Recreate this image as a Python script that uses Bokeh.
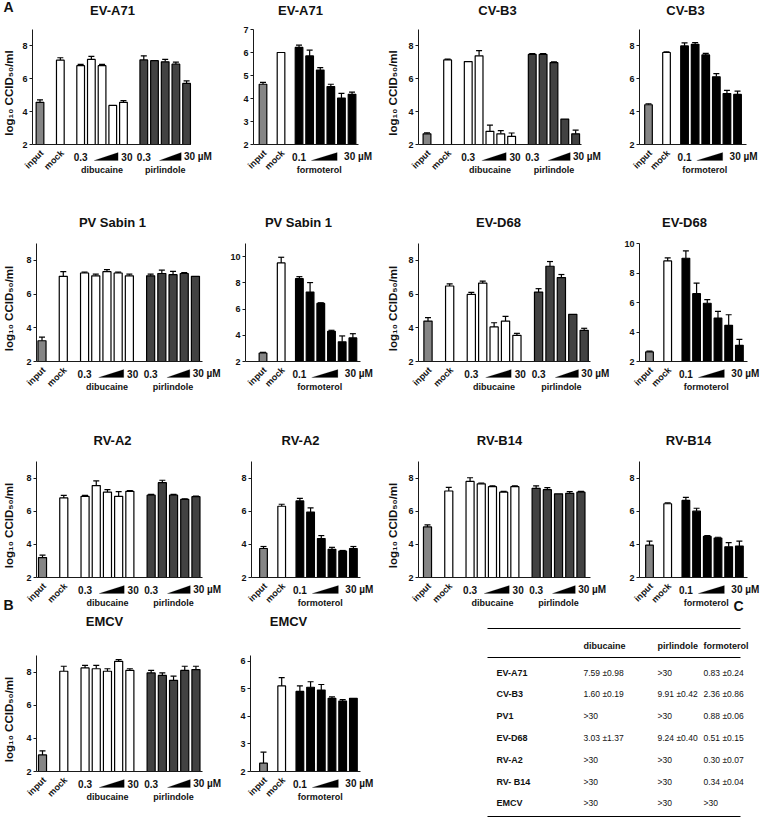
from math import pi
from bokeh.plotting import figure
from bokeh.layouts import row, column
from bokeh.models import (Range1d, FixedTicker, Label, PolyAnnotation, Whisker,
                          TeeHead, ColumnDataSource)
from bokeh.core.properties import value
from bokeh.embed import file_html
from bokeh.resources import INLINE

# ---------------- data (log10 CCID50/ml, mean and SD) ----------------
# dibucaine/pirlindole panels: input, mock, dibucaine x5 (0.3 -> 30), pirlindole x5 (0.3 -> 30 uM)
EVA71_dp_vals = [4.57, 7.13, 6.80, 7.18, 6.80, 4.38, 4.57, 7.15, 7.10, 7.03, 6.89, 5.72]
EVA71_dp_errs = [0.15, 0.15, 0.08, 0.18, 0.08, 0.00, 0.10, 0.25, 0.00, 0.15, 0.13, 0.15]
CVB3_dp_vals = [2.65, 7.15, 7.05, 7.40, 2.80, 2.65, 2.50, 7.48, 7.48, 6.98, 3.55, 2.65]
CVB3_dp_errs = [0.06, 0.05, 0.00, 0.32, 0.38, 0.20, 0.20, 0.05, 0.05, 0.05, 0.00, 0.22]
PV1_dp_vals = [3.23, 7.05, 7.25, 7.08, 7.33, 7.25, 7.08, 7.08, 7.22, 7.15, 7.22, 7.05]
PV1_dp_errs = [0.22, 0.28, 0.05, 0.10, 0.12, 0.05, 0.10, 0.10, 0.20, 0.20, 0.06, 0.00]
EVD68_dp_vals = [4.40, 6.48, 5.98, 6.65, 4.05, 4.40, 3.55, 6.12, 7.65, 6.98, 4.80, 3.85]
EVD68_dp_errs = [0.20, 0.13, 0.12, 0.12, 0.25, 0.28, 0.12, 0.20, 0.28, 0.18, 0.00, 0.12]
RVA2_dp_vals = [3.20, 6.80, 6.90, 7.55, 7.15, 6.90, 7.20, 6.97, 7.72, 6.97, 6.72, 6.88]
RVA2_dp_errs = [0.15, 0.15, 0.05, 0.28, 0.15, 0.28, 0.05, 0.05, 0.15, 0.05, 0.03, 0.03]
RVB14_dp_vals = [5.05, 7.22, 7.80, 7.65, 7.48, 7.15, 7.48, 7.38, 7.30, 7.05, 7.08, 7.15]
RVB14_dp_errs = [0.12, 0.22, 0.22, 0.05, 0.05, 0.05, 0.05, 0.15, 0.12, 0.00, 0.10, 0.05]
EMCV_dp_vals = [3.00, 8.05, 8.25, 8.20, 8.05, 8.65, 8.10, 7.95, 7.80, 7.50, 8.10, 8.15]
EMCV_dp_errs = [0.25, 0.30, 0.15, 0.20, 0.15, 0.10, 0.10, 0.15, 0.15, 0.25, 0.25, 0.20]

# formoterol panels: input, mock, formoterol x6 (0.1 -> 30 uM)
EVA71_f_vals = [4.62, 6.00, 6.22, 5.85, 5.24, 4.52, 4.02, 4.18]
EVA71_f_errs = [0.08, 0.00, 0.10, 0.25, 0.10, 0.10, 0.20, 0.10]
CVB3_f_vals = [4.42, 7.60, 8.00, 8.10, 7.45, 6.12, 5.10, 5.05]
CVB3_f_errs = [0.06, 0.04, 0.18, 0.10, 0.10, 0.20, 0.20, 0.20]
PV1_f_vals = [2.65, 9.52, 8.32, 7.30, 6.43, 4.30, 3.50, 3.80]
PV1_f_errs = [0.05, 0.43, 0.15, 0.72, 0.05, 0.08, 0.45, 0.32]
EVD68_f_vals = [2.65, 8.82, 9.00, 6.60, 5.95, 4.95, 4.45, 3.10]
EVD68_f_errs = [0.05, 0.20, 0.50, 0.72, 0.25, 0.45, 0.72, 0.40]
RVA2_f_vals = [3.75, 6.30, 6.62, 5.95, 4.35, 3.70, 3.60, 3.75]
RVA2_f_errs = [0.12, 0.12, 0.15, 0.25, 0.18, 0.12, 0.03, 0.12]
RVB14_f_vals = [3.95, 6.45, 6.65, 6.00, 4.48, 4.38, 3.85, 3.90]
RVB14_f_errs = [0.25, 0.05, 0.18, 0.18, 0.05, 0.05, 0.25, 0.30]
EMCV_f_vals = [2.30, 5.10, 4.90, 5.05, 4.95, 4.65, 4.55, 4.65]
EMCV_f_errs = [0.40, 0.30, 0.20, 0.20, 0.20, 0.05, 0.05, 0.00]

# table C (EC50, uM)
TABLE_HEAD = ["dibucaine", "pirlindole", "formoterol"]
TABLE_VIRUS = ["EV-A71", "CV-B3", "PV1", "EV-D68", "RV-A2", "RV- B14", "EMCV"]
TABLE_DIB = ["7.59 \u00b10.98", "1.60 \u00b10.19", ">30", "3.03 \u00b11.37", ">30", ">30", ">30"]
TABLE_PIR = [">30", "9.91 \u00b10.42", ">30", "9.24 \u00b10.40", ">30", ">30", ">30"]
TABLE_FOR = ["0.83 \u00b10.24", "2.36 \u00b10.86", "0.88 \u00b10.06", "0.51 \u00b10.15",
             "0.30 \u00b10.07", "0.34 \u00b10.04", ">30"]

# ---------------- style / layout ----------------
FONT = "Liberation Sans"
C_INPUT = "#858585"
C_WHITE = "#ffffff"
C_PIR = "#424242"
C_FOR = "#000000"
AX = "#1a1a1a"
TXT = "#111111"

DP_X = [0, 1.9, 3.8, 4.8, 5.8, 6.8, 7.8, 9.7, 10.7, 11.7, 12.7, 13.7]
F_X = [0, 1.7, 3.4, 4.4, 5.4, 6.4, 7.4, 8.4]
DP_COL = [C_INPUT, C_WHITE] + [C_WHITE] * 5 + [C_PIR] * 5
F_COL = [C_INPUT, C_WHITE] + [C_FOR] * 6
YLABEL = "log\u2081\u2080 CCID\u2085\u2080/ml"


def add_text(p, x, y, text, size, align="center", baseline="middle", angle=0, bold=True):
    p.add_layout(Label(x=x, y=y, text=text, angle=angle,
                       text_font=FONT, text_font_size=size,
                       text_font_style="bold" if bold else "normal",
                       text_align=align, text_baseline=baseline, text_color=TXT))


def build(kind, title, vals, errs, fig_x, rowg, ax, input_px, slot, ytop, yticks,
          title_x, ylabel_x=None, letters=()):
    fx0, fx1 = fig_x
    fy0, fy1 = rowg["fig"]
    yt_px, yb_px = rowg["axis"]
    ax0, ax1 = ax
    ppy = (yb_px - yt_px) / (ytop - 2.0)

    def xd(px):
        return (px - input_px) / slot

    def yd(py):
        return 2.0 + (yb_px - py) / ppy

    p = figure(width=fx1 - fx0, height=fy1 - fy0,
               x_range=Range1d(xd(fx0), xd(fx1)), y_range=Range1d(yd(fy1), yd(fy0)),
               output_backend="svg", toolbar_location=None, title=None,
               min_border=0, min_border_left=0, min_border_right=0,
               min_border_top=0, min_border_bottom=0)
    p.xgrid.visible = False
    p.ygrid.visible = False
    p.outline_line_color = None

    ya = p.yaxis[0]
    ya.fixed_location = xd(ax0)
    ya.bounds = (2, ytop)
    ya.ticker = FixedTicker(ticks=yticks)
    ya.major_label_text_font = FONT
    ya.major_label_text_font_style = "bold"
    ya.major_label_text_font_size = "9px"
    ya.major_label_text_color = TXT
    ya.major_tick_out = 3
    ya.major_tick_in = 0
    ya.minor_tick_line_color = None
    ya.axis_line_color = AX
    ya.major_tick_line_color = AX
    ya.major_label_standoff = 2

    xa = p.xaxis[0]
    xa.fixed_location = 2
    xa.bounds = (xd(ax0), xd(ax1))
    xa.ticker = FixedTicker(ticks=[])
    xa.major_tick_line_color = None
    xa.minor_tick_line_color = None
    xa.major_label_text_font_size = "0px"
    xa.axis_line_color = AX

    X = DP_X if kind == "dp" else F_X
    cols = DP_COL if kind == "dp" else F_COL
    src = ColumnDataSource(dict(x=X, top=vals, color=cols))
    p.vbar(x="x", top="top", bottom=2, width=0.72, fill_color="color",
           line_color="black", line_width=1.2, source=src)

    ex = [x for x, e in zip(X, errs) if e > 0]
    elo = [v for v, e in zip(vals, errs) if e > 0]
    ehi = [v + e for v, e in zip(vals, errs) if e > 0]
    esrc = ColumnDataSource(dict(x=ex, lo=elo, hi=ehi))
    p.add_layout(Whisker(base="x", lower="lo", upper="hi", source=esrc,
                         dimension="height", line_color="black", line_width=1.2,
                         lower_head=None,
                         upper_head=TeeHead(size=6, line_color="black", line_width=1.2)))

    def wedge(a, b):
        p.add_layout(PolyAnnotation(xs=[a, b, b],
                                    ys=[yd(yb_px + 16), yd(yb_px + 16), yd(yb_px + 8)],
                                    fill_color="black", fill_alpha=1.0,
                                    line_color="black", line_width=0.5))

    d = 2.0 / slot
    ylab = yd(yb_px + 7)
    add_text(p, X[0] + d, ylab, "input", "9px", align="right", angle=pi / 4)
    add_text(p, X[1] + d, ylab, "mock", "9px", align="right", angle=pi / 4)
    yc = yd(yb_px + 12)
    yn = yd(yb_px + 25)
    if kind == "dp":
        add_text(p, X[2], yc, "0.3", "10px")
        wedge(5.05, 7.3)
        add_text(p, 7.6, yc, "30", "10px", align="left")
        add_text(p, X[4], yn, "dibucaine", "9px")
        add_text(p, X[7], yc, "0.3", "10px")
        wedge(11.15, 13.2)
        add_text(p, 13.45, yc, "30 \u00b5M", "10px", align="left")
        add_text(p, X[9], yn, "pirlindole", "9px")
    else:
        add_text(p, X[2], yc, "0.1", "10px")
        wedge(4.55, 7.0)
        add_text(p, 7.65, yc, "30 \u00b5M", "10px", align="left")
        add_text(p, 5.3, yn, "formoterol", "9px")

    add_text(p, xd(title_x), yd(rowg["title"]), title, "13px")
    if ylabel_x is not None:
        add_text(p, xd(ylabel_x), yd((yt_px + yb_px) / 2 + 6), YLABEL, "11.5px",
                 angle=pi / 2)
    for t, px, py in letters:
        add_text(p, xd(px), yd(py), t, "14px", align="left")
    return p


R1 = dict(fig=(0, 205), axis=(29, 144), title=10)
R2 = dict(fig=(205, 420), axis=(243, 361), title=222)
R3 = dict(fig=(420, 612), axis=(461, 577), title=440)
R4 = dict(fig=(612, 819), axis=(655, 771), title=621)

C1, C2, C3, C4 = (0, 228), (228, 382), (382, 614), (614, 760)
T8 = [2, 4, 6, 8]

row1 = row(
    build("dp", "EV-A71", EVA71_dp_vals, EVA71_dp_errs, C1, R1, (32, 190), 39.5, 10.7,
          9, T8, 112, ylabel_x=8, letters=[("A", 3, 6)]),
    build("f", "EV-A71", EVA71_f_vals, EVA71_f_errs, C2, R1, (253, 358), 262.5, 10.6,
          7, [2, 3, 4, 5, 6, 7], 300),
    build("dp", "CV-B3", CVB3_dp_vals, CVB3_dp_errs, C3, R1, (418, 581), 426.5, 10.85,
          9, T8, 497, ylabel_x=392),
    build("f", "CV-B3", CVB3_f_vals, CVB3_f_errs, C4, R1, (639, 746), 648, 10.6,
          9, T8, 685),
)
row2 = row(
    build("dp", "PV Sabin 1", PV1_dp_vals, PV1_dp_errs, C1, R2, (36, 202), 41.5, 11.2,
          9, T8, 112, ylabel_x=8),
    build("f", "PV Sabin 1", PV1_f_vals, PV1_f_errs, C2, R2, (245, 360), 262.5, 10.7,
          11, [2, 4, 6, 8, 10], 298),
    build("dp", "EV-D68", EVD68_dp_vals, EVD68_dp_errs, C3, R2, (418, 590), 427.5, 11.4,
          9, T8, 498, ylabel_x=392),
    build("f", "EV-D68", EVD68_f_vals, EVD68_f_errs, C4, R2, (639, 747), 649, 10.7,
          10, [2, 4, 6, 8, 10], 684),
)
row3 = row(
    build("dp", "RV-A2", RVA2_dp_vals, RVA2_dp_errs, C1, R3, (36, 202), 42, 11.2,
          9, T8, 112, ylabel_x=8, letters=[("B", 3, 604)]),
    build("f", "RV-A2", RVA2_f_vals, RVA2_f_errs, C2, R3, (251, 360), 263, 10.7,
          9, T8, 300),
    build("dp", "RV-B14", RVB14_dp_vals, RVB14_dp_errs, C3, R3, (418, 590), 427, 11.2,
          9, T8, 499, ylabel_x=392),
    build("f", "RV-B14", RVB14_f_vals, RVB14_f_errs, C4, R3, (639, 747), 649, 10.7,
          9, T8, 688, letters=[("C", 733, 605)]),
)

emcv1 = build("dp", "EMCV", EMCV_dp_vals, EMCV_dp_errs, C1, R4, (36, 202), 42, 11.2,
              9, T8, 104, ylabel_x=8)
emcv2 = build("f", "EMCV", EMCV_f_vals, EMCV_f_errs, C2, R4, (250, 360), 263, 10.7,
              6.2, [2, 3, 4, 5, 6], 288)

# ---------------- table C ----------------
TFX0, TFX1 = 382, 760
TFY0, TFY1 = 612, 819
TX0, TX1 = 487, 740
t = figure(width=TFX1 - TFX0, height=TFY1 - TFY0, x_range=Range1d(TFX0, TFX1),
           y_range=Range1d(TFY1, TFY0), output_backend="svg", toolbar_location=None,
           x_axis_location=None, y_axis_location=None, title=None,
           min_border=0, min_border_left=0, min_border_right=0,
           min_border_top=0, min_border_bottom=0)
t.xgrid.visible = False
t.ygrid.visible = False
t.outline_line_color = None

COLX = [583, 657, 703]
NAME_X = 496
HEAD_Y = 645
ROW0_Y = 672
ROW_H = 21.8
RULES_Y = [628, 657, 816]

hsrc = ColumnDataSource(dict(x=COLX, y=[HEAD_Y] * 3, t=TABLE_HEAD))
t.text(x="x", y="y", text="t", source=hsrc, text_font=value(FONT),
       text_font_size="9px", text_font_style="bold", text_baseline="middle",
       text_align="left", text_color=TXT)
ys = [ROW0_Y + i * ROW_H for i in range(len(TABLE_VIRUS))]
nsrc = ColumnDataSource(dict(x=[NAME_X] * len(ys), y=ys, t=TABLE_VIRUS))
t.text(x="x", y="y", text="t", source=nsrc, text_font=value(FONT),
       text_font_size="9px", text_font_style="bold", text_baseline="middle",
       text_align="left", text_color=TXT)
for cx, colvals in zip(COLX, [TABLE_DIB, TABLE_PIR, TABLE_FOR]):
    vsrc = ColumnDataSource(dict(x=[cx] * len(ys), y=ys, t=colvals))
    t.text(x="x", y="y", text="t", source=vsrc, text_font=value(FONT),
           text_font_size="8.5px", text_font_style="normal", text_baseline="middle",
           text_align="left", text_color=TXT)
t.segment(x0=[TX0] * 3, x1=[TX1] * 3, y0=RULES_Y, y1=RULES_Y,
          line_color="black", line_width=1)

row4 = row(emcv1, emcv2, t)

layout = column(row1, row2, row3, row4)
open("out.html", "w").write(file_html(layout, INLINE))
